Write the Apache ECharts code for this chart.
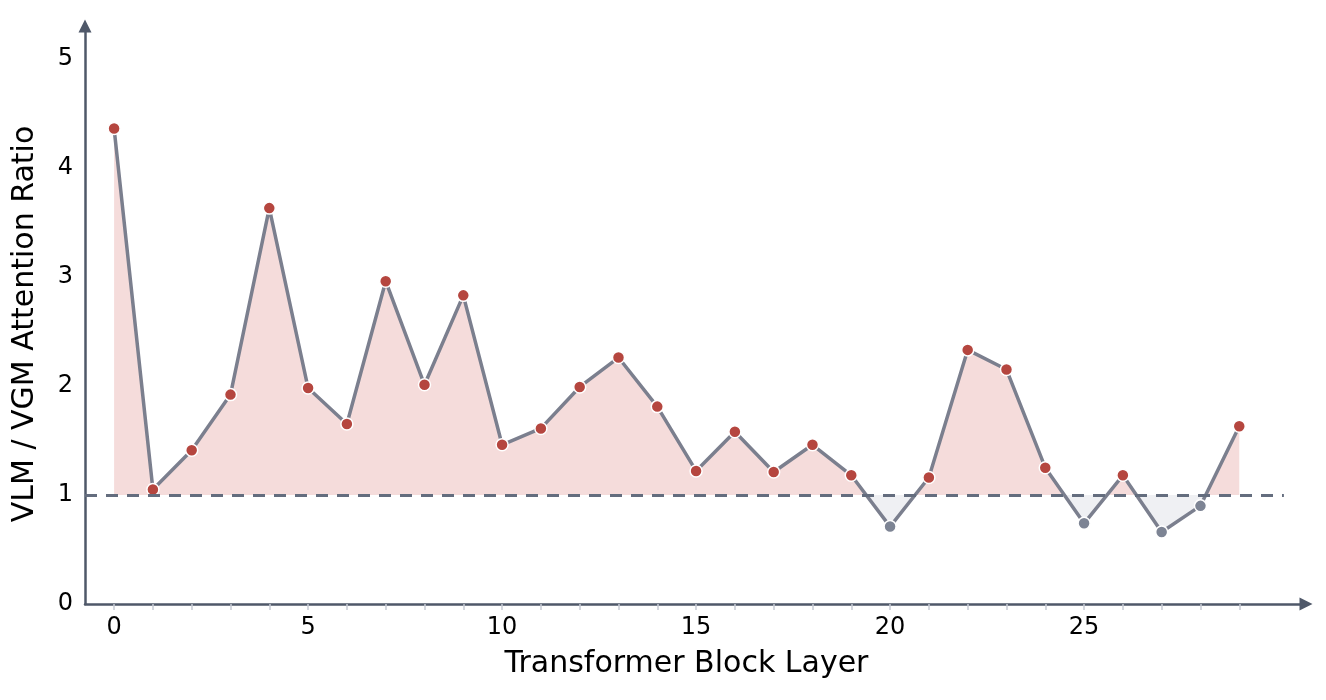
<!DOCTYPE html>
<html>
<head>
<meta charset="utf-8">
<script src="https://cdn.jsdelivr.net/npm/echarts@6/dist/echarts.min.js"></script>
<style>
  html, body { margin: 0; padding: 0; background: #fff; }
  #chart { width: 1326px; height: 700px; }
</style>
</head>
<body>
<div id="chart"></div>
<script>
// layer index and ratio
var layers = [0, 1, 2, 3, 4, 5, 6, 7, 8, 9, 10, 11, 12, 13, 14, 15, 16, 17, 18, 19, 20, 21, 22, 23, 24, 25, 26, 27, 28, 29];
var ratios = [4.36, 1.05, 1.41, 1.92, 3.63, 1.98, 1.65, 2.96, 2.01, 2.83,
              1.46, 1.61, 1.99, 2.26, 1.81, 1.22, 1.58, 1.21, 1.46, 1.18,
              0.71, 1.16, 2.33, 2.15, 1.25, 0.74, 1.18, 0.66, 0.90, 1.63];
var xTickLabels = [0, 5, 10, 15, 20, 25];
var yTickLabels = [0, 1, 2, 3, 4, 5];
var baseline = 1;

var RED = '#b5463f';
var GREY = '#7d8494';
var AXIS = '#4f5869';
var FONT = 'DejaVu Sans';

document.addEventListener("DOMContentLoaded", function () {
    var chart = echarts.init(document.getElementById('chart'));

    var lineData = layers.map(function (l, i) {
        return [l, ratios[i]];
    });
    var pointData = layers.map(function (l, i) {
        return {
            value: [l, ratios[i]],
            itemStyle: { color: ratios[i] > baseline ? RED : GREY }
        };
    });

    var option = {
        animation: false,
        grid: { left: 85, right: 20, top: 26, bottom: 96 },
        xAxis: {
            type: 'value',
            min: -0.75,
            max: 30.72,
            name: 'Transformer Block Layer',
            nameLocation: 'middle',
            nameGap: 45,
            nameTextStyle: { fontFamily: FONT, fontSize: 30, color: '#000', padding: [0, 18, 0, 0] },
            axisLine: {
                onZero: false,
                symbol: ['none', 'triangle'],
                symbolSize: [13, 13],
                lineStyle: { color: AXIS, width: 2.5 }
            },
            axisTick: {
                customValues: layers,
                length: 6,
                lineStyle: { color: '#c8ccd5', width: 1.5 }
            },
            axisLabel: {
                customValues: xTickLabels,
                fontFamily: FONT,
                fontSize: 24,
                color: '#000',
                margin: 12
            },
            splitLine: { show: false }
        },
        yAxis: {
            type: 'value',
            min: 0,
            max: 5.3,
            name: 'VLM / VGM Attention Ratio',
            nameLocation: 'middle',
            nameGap: 45,
            nameTextStyle: { fontFamily: FONT, fontSize: 30, color: '#000', padding: [0, 18, 0, 0] },
            axisLine: {
                show: true,
                onZero: false,
                symbol: ['none', 'triangle'],
                symbolSize: [13, 13],
                lineStyle: { color: AXIS, width: 2.5 }
            },
            axisTick: { show: false },
            axisLabel: {
                customValues: yTickLabels,
                fontFamily: FONT,
                fontSize: 24,
                color: '#000',
                margin: 12,
                padding: [5, 0, 0, 0]
            },
            splitLine: { show: false }
        },
        visualMap: {
            show: false,
            type: 'piecewise',
            seriesIndex: 0,
            dimension: 1,
            pieces: [
                { gte: 0, lte: baseline, color: '#eff0f3' },
                { gt: baseline, lte: 6, color: '#f5dcdb' }
            ]
        },
        series: [
            {
                // filled band between the curve and ratio = 1
                type: 'line',
                data: lineData,
                showSymbol: false,
                silent: true,
                lineStyle: { width: 0 },
                areaStyle: { origin: baseline, opacity: 1 },
                z: 1,
                markLine: {
                    silent: true,
                    symbol: 'none',
                    label: { show: false },
                    lineStyle: { color: '#646d7e', width: 2.8, type: [12, 9] },
                    data: [[{ coord: [-0.75, baseline] }, { coord: [30.15, baseline] }]]
                }
            },
            {
                type: 'line',
                data: pointData,
                symbol: 'circle',
                symbolSize: 12,
                lineStyle: { color: '#7b7f8e', width: 3.5 },
                itemStyle: { borderColor: '#fff', borderWidth: 1.5 },
                z: 3
            }
        ]
    };

    chart.setOption(option);
});
</script>
</body>
</html>
